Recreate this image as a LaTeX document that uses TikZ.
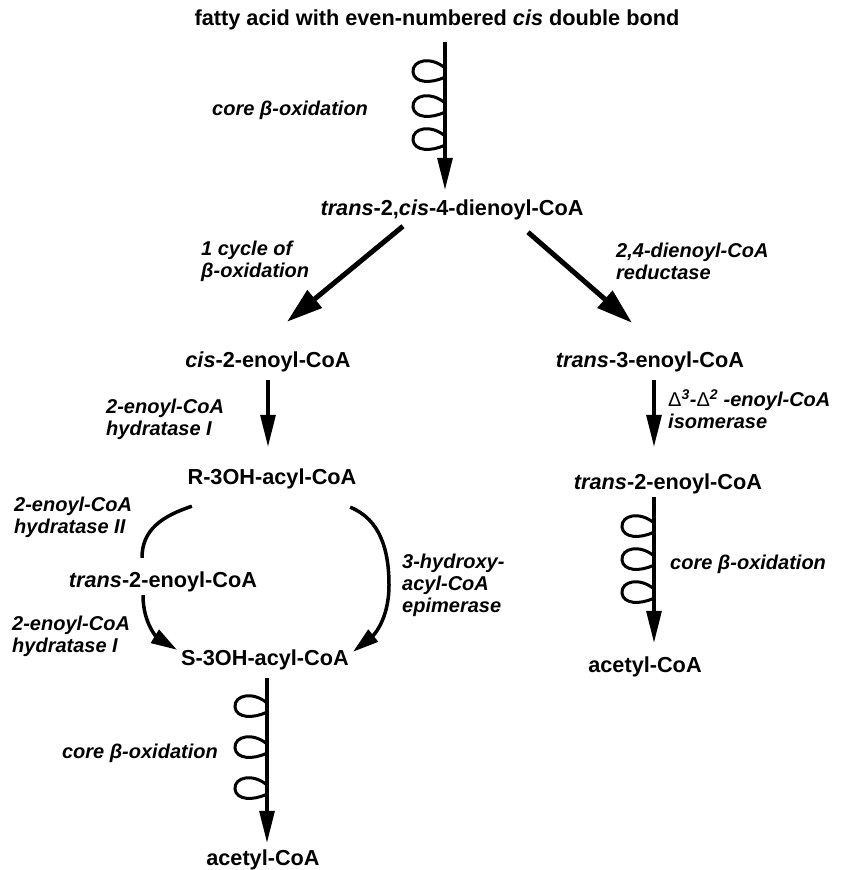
\documentclass[tikz,border=0pt]{standalone}
\usepackage{fontspec}
\setmainfont{Liberation Sans}
\usetikzlibrary{arrows.meta, calc}

\begin{document}
\begin{tikzpicture}[
    x=1pt, y=-1pt,
    compound/.style={
        font=\fontsize{21.7pt}{26pt}\selectfont\bfseries,
        inner sep=0pt, text height=15.5pt, text depth=4.5pt
    },
    enzyme/.style={
        font=\fontsize{20pt}{22pt}\selectfont\bfseries\itshape,
        inner sep=0pt, align=left
    },
    arrow/.style={-{Triangle[length=32pt, width=15pt]}, line width=3.2pt},
    bigarrow/.style={-{Triangle[length=36pt, width=22pt]}, line width=5pt},
    bypass/.style={line width=3.5pt},
    bypassarrow/.style={bypass, -{Triangle[length=26pt, width=15pt]}},
    curl/.pic={
        \draw[line width=3pt] (0,-4) .. controls (-14,-16) and (-33,-12) .. (-32,0)
            .. controls (-31,11) and (-14,12) .. (0,5);
    }
]
\useasboundingbox (0,0) rectangle (842,870);

% Compounds
\node[compound] (fatty) at (437,20) {fatty acid with even-numbered \textit{cis} double bond};
\node[compound] (dienoyl) at (452,210) {\textit{trans}-2,\textit{cis}-4-dienoyl-CoA};
\node[compound] (cisenoyl) at (268,362) {\textit{cis}-2-enoyl-CoA};
\node[compound] (transthree) at (650,362) {\textit{trans}-3-enoyl-CoA};
\node[compound] (rhydroxy) at (272,479) {R-3OH-acyl-CoA};
\node[compound] (transtwoR) at (668,484) {\textit{trans}-2-enoyl-CoA};
\node[compound] (transtwoL) at (163,582) {\textit{trans}-2-enoyl-CoA};
\node[compound] (shydroxy) at (265,660) {S-3OH-acyl-CoA};
\node[compound] (acetylR) at (645,667) {acetyl-CoA};
\node[compound] (acetylL) at (263,860) {acetyl-CoA};

% Enzymes
\node[enzyme, anchor=west] (coreA) at (212,110) {core β-oxidation};
\node[enzyme, anchor=west] (cycle) at (201,261) {1 cycle of\\β-oxidation};
\node[enzyme, anchor=west] (reductase) at (616,261) {2,4-dienoyl-CoA\\reductase};
\node[enzyme, anchor=west] (hydrataseA) at (106,419) {2-enoyl-CoA\\hydratase I};
\node[enzyme, anchor=west] (isomerase) at (668,409) {{\mdseries\upshape Δ}\textsuperscript{3}-{\mdseries\upshape Δ}\textsuperscript{2} -enoyl-CoA\\isomerase};
\node[enzyme, anchor=west] (coreB) at (670,564) {core β-oxidation};
\node[enzyme, anchor=west] (hydrataseB) at (14,517) {2-enoyl-CoA\\hydratase II};
\node[enzyme, anchor=west] (epimerase) at (402,585) {3-hydroxy-\\acyl-CoA\\epimerase};
\node[enzyme, anchor=west] (hydrataseC) at (12,636) {2-enoyl-CoA\\hydratase I};
\node[enzyme, anchor=east] (coreC) at (218,753) {core β-oxidation};

% Core beta-oxidation spirals
\draw[arrow] ($(fatty.south)+(8,12)$) -- ($(dienoyl.north)+(-7,-10)$);
\foreach \y in {72,107,140} \pic at (445,\y) {curl};
\draw[arrow] ($(transtwoR.south)+(-14,3)$) -- ($(acetylR.north)+(9,-14)$);
\foreach \y in {527,560,593} \pic at (654,\y) {curl};
\draw[arrow] ($(shydroxy.south)+(2,8)$) -- ($(acetylL.north)+(4,-7)$);
\foreach \y in {707,748,789} \pic at (267,\y) {curl};

% Branches
\draw[bigarrow] ($(dienoyl.south)+(-49,6)$) -- ($(cisenoyl.north)+(19,-30)$);
\draw[bigarrow] ($(dienoyl.south)+(76,12)$) -- ($(transthree.north)+(-18,-29)$);
\draw[arrow] ($(cisenoyl.south)+(0,8)$) -- ($(rhydroxy.north)+(-4,-22)$);
\draw[arrow] ($(transthree.south)+(4,8)$) -- ($(transtwoR.north)+(-14,-27)$);

% Epimerisation loop
\draw[bypass] ($(rhydroxy.south west)+(4.5,17)$) .. controls +(-30,10) and +(0,-28) .. ($(transtwoL.north)+(-21,-14)$);
\draw[bypassarrow] ($(transtwoL.south)+(-20,3)$) .. controls +(0,30) and +(-18,-11) .. ($(shydroxy.north west)+(-4,0)$);
\draw[bypassarrow] ($(rhydroxy.south east)+(-6.5,18)$) .. controls +(30,12) and +(0,-35) .. (389,585)
    .. controls +(0,35) and +(20,-16) .. ($(shydroxy.north east)+(4,2)$);

\end{tikzpicture}
\end{document}
